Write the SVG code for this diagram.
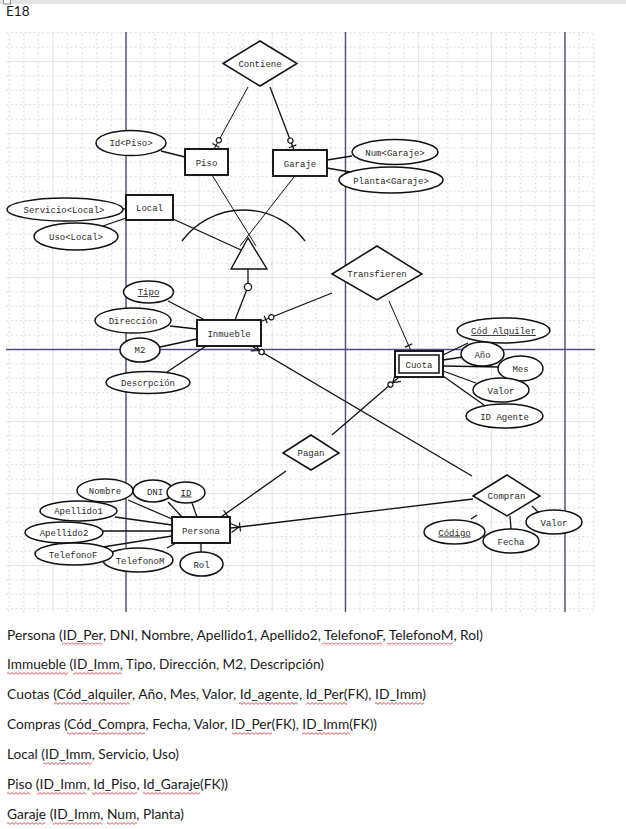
<svg xmlns="http://www.w3.org/2000/svg" xmlns:xlink="http://www.w3.org/1999/xlink" width="626" height="829" viewBox="0 0 626 829">
<style>
.lbl{font-family:"Liberation Mono","DejaVu Sans Mono",monospace;font-size:9px;fill:#2a2a2a;text-anchor:middle}
.ent{fill:#fff;stroke:#111;stroke-width:1.9}
.att{fill:#fff;stroke:#111;stroke-width:1.5}
.rel{fill:#fff;stroke:#111;stroke-width:1.5}
.cn{stroke:#111;stroke-width:1.3;fill:none}
.thin{stroke-width:1}
.mk{stroke:#111;stroke-width:1.2;fill:none}
.body{font-family:Lato,"Open Sans","Liberation Sans",sans-serif;font-size:14px;fill:#1a1a1a}
.blue{stroke:#4d4d82;stroke-width:1.4}
.sq{fill:url(#squig)}
</style>
<defs>
<pattern id="grid" patternUnits="userSpaceOnUse" x="125.5" y="349" width="73.1" height="72">
<g stroke="#d9d9d9" stroke-width="1" stroke-dasharray="2 2.5">
<line x1="15.1" y1="0" x2="15.1" y2="72"/><line x1="29.7" y1="0" x2="29.7" y2="72"/><line x1="44.4" y1="0" x2="44.4" y2="72"/><line x1="59" y1="0" x2="59" y2="72"/>
<line x1="0" y1="14.9" x2="73.1" y2="14.9"/><line x1="0" y1="29.3" x2="73.1" y2="29.3"/><line x1="0" y1="43.7" x2="73.1" y2="43.7"/><line x1="0" y1="58.1" x2="73.1" y2="58.1"/>
</g>
<g stroke="#e3e3e3" stroke-width="1"><line x1="0.5" y1="0" x2="0.5" y2="72"/><line x1="0" y1="0.5" x2="73.1" y2="0.5"/></g>
</pattern>
<pattern id="squig" patternUnits="userSpaceOnUse" x="0" y="0" width="4" height="3">
<path d="M0,0.6 L2,2.4 L4,0.6" stroke="#e0262b" stroke-width="0.8" fill="none"/>
</pattern>
<g id="m-one-opt" class="mk"><line x1="4" y1="-4" x2="4" y2="4"/><circle cx="10" cy="0" r="2.6" fill="#fff"/></g>
<g id="m-many-opt" class="mk"><path d="M0,-4.5 L7,0 M0,4.5 L7,0"/><circle cx="10" cy="0" r="2.6" fill="#fff"/></g>
<g id="m-many-one" class="mk"><path d="M0,-4.5 L8,0 M0,4.5 L8,0 M9,-4.5 L9,4.5"/></g>
<g id="m-bar" class="mk"><path d="M6,-4 L6,4"/></g>
</defs>

<rect x="0" y="0" width="626" height="829" fill="#fff"/>
<rect x="0" y="0" width="626" height="4" fill="#e4e4e4"/>
<rect x="3.5" y="-1" width="7" height="5" fill="#fff" stroke="#8a8a8a" stroke-width="1"/>
<text x="6" y="16" font-family="Lato,'Open Sans','Liberation Sans',sans-serif" font-size="13.5" fill="#1a1a1a">E18</text>

<g id="grid-area">
<rect x="6" y="32" width="589" height="580" fill="url(#grid)"/>
<line class="blue" x1="126" y1="32" x2="126" y2="612"/>
<line class="blue" x1="345.5" y1="32" x2="345.5" y2="612"/>
<line class="blue" x1="565" y1="32" x2="565" y2="612"/>
<line class="blue" x1="6" y1="349.5" x2="595" y2="349.5"/>
</g>

<g id="connectors">
<line class="cn thin" x1="248" y1="87" x2="214" y2="149"/>
<line class="cn" x1="270" y1="87" x2="294" y2="150"/>
<line class="cn" x1="161" y1="151" x2="185" y2="157"/>
<line class="cn" x1="352" y1="156" x2="327" y2="160"/>
<line class="cn" x1="327" y1="168" x2="350" y2="172"/>
<line class="cn" x1="100" y1="227" x2="126" y2="218"/>
<line class="cn" x1="120" y1="209" x2="126" y2="209"/>
<line class="cn" x1="173" y1="219" x2="241" y2="250"/>
<line class="cn thin" x1="212" y1="175" x2="256" y2="246"/>
<line class="cn thin" x1="294" y1="177" x2="240" y2="246"/>
<path class="cn" d="M182,241 A76.5,76.5 0 0 1 305,241"/>
<line class="cn" x1="248" y1="269" x2="248" y2="284"/>
<line class="cn" x1="246.5" y1="290.5" x2="235" y2="320"/>
<line class="cn" x1="168" y1="301" x2="205" y2="320"/>
<line class="cn" x1="170" y1="326" x2="197" y2="329"/>
<line class="cn" x1="160" y1="347" x2="197" y2="339"/>
<line class="cn" x1="167" y1="372" x2="206" y2="346"/>
<line class="cn" x1="332" y1="293" x2="262" y2="321"/>
<line class="cn thin" x1="389" y1="301" x2="411" y2="351"/>
<line class="cn" x1="472" y1="476" x2="253" y2="347"/>
<line class="cn" x1="332" y1="435" x2="398" y2="378"/>
<line class="cn" x1="286" y1="471" x2="221" y2="517"/>
<line class="cn" x1="473" y1="499" x2="231" y2="528"/>
<line class="cn" x1="443" y1="355" x2="468" y2="343"/>
<line class="cn" x1="443" y1="360" x2="463" y2="357"/>
<line class="cn" x1="443" y1="366" x2="500" y2="367"/>
<line class="cn" x1="443" y1="371" x2="476" y2="383"/>
<line class="cn" x1="443" y1="376" x2="484" y2="405"/>
<line class="cn" x1="128" y1="500" x2="172" y2="519"/>
<line class="cn" x1="168" y1="502" x2="182" y2="517"/>
<line class="cn" x1="192" y1="503" x2="197" y2="517"/>
<line class="cn" x1="115" y1="517" x2="172" y2="525"/>
<line class="cn" x1="103" y1="531" x2="172" y2="531"/>
<line class="cn" x1="103" y1="547" x2="172" y2="536"/>
<line class="cn" x1="167" y1="548" x2="176" y2="543"/>
<line class="cn" x1="201" y1="543" x2="201" y2="552"/>
<line class="cn" x1="471" y1="519" x2="477" y2="515"/>
<line class="cn" x1="510" y1="516" x2="511" y2="529"/>
<line class="cn" x1="532" y1="506" x2="538" y2="512"/>
<use xlink:href="#m-one-opt" href="#m-one-opt" transform="translate(214,149) rotate(-61.3)"/>
<use xlink:href="#m-one-opt" href="#m-one-opt" transform="translate(294,150) rotate(-110.9)"/>
<use xlink:href="#m-one-opt" href="#m-one-opt" transform="translate(262,321) rotate(-21.8)"/>
<use xlink:href="#m-bar" href="#m-bar" transform="translate(411,351) rotate(-113.7)"/>
<use xlink:href="#m-many-opt" href="#m-many-opt" transform="translate(398,378) rotate(139.2)"/>
<use xlink:href="#m-bar" href="#m-bar" transform="translate(221,517) rotate(-35.3)"/>
<use xlink:href="#m-many-opt" href="#m-many-opt" transform="translate(253,347) rotate(30.5)"/>
<use xlink:href="#m-many-one" href="#m-many-one" transform="translate(231,528) rotate(-6.8)"/>
</g>

<g id="isa">
<polygon points="248,238 231,269 267,269" fill="none" stroke="#111" stroke-width="1.4"/>
<circle cx="248" cy="287" r="3.6" fill="#fff" stroke="#111" stroke-width="1.2"/>
</g>

<g id="contiene"><polygon class="rel" points="223,63.5 260,41 297,63.5 260,86"/><text class="lbl" x="260" y="67">Contiene</text></g>
<g id="piso"><rect class="ent" x="185" y="149" width="43" height="26"/><text class="lbl" x="206.5" y="166">Piso</text></g>
<g id="garaje"><rect class="ent" x="273" y="150" width="54" height="26"/><text class="lbl" x="300" y="167">Garaje</text></g>
<g id="id-piso"><ellipse class="att" cx="131" cy="143" rx="35" ry="12.5"/><text class="lbl" x="131" y="146">Id&lt;Piso&gt;</text></g>
<g id="num-garaje"><ellipse class="att" cx="395" cy="152" rx="43" ry="12.5"/><text class="lbl" x="395" y="155.5">Num&lt;Garaje&gt;</text></g>
<g id="planta-garaje"><ellipse class="att" cx="391" cy="180" rx="52" ry="13"/><text class="lbl" x="391" y="183.5">Planta&lt;Garaje&gt;</text></g>
<g id="local"><rect class="ent" x="126" y="195" width="47" height="25"/><text class="lbl" x="149.5" y="211">Local</text></g>
<g id="servicio-local"><ellipse class="att" cx="65" cy="209.5" rx="58" ry="11.5"/><text class="lbl" x="64" y="212.5">Servicio&lt;Local&gt;</text></g>
<g id="uso-local"><ellipse class="att" cx="76" cy="236.5" rx="42" ry="13.5"/><text class="lbl" x="76" y="240">Uso&lt;Local&gt;</text></g>
<g id="inmueble"><rect class="ent" x="197" y="320" width="64" height="26"/><text class="lbl" x="229" y="337">Inmueble</text></g>
<g id="tipo"><ellipse class="att" cx="148.5" cy="292" rx="25" ry="11"/><text class="lbl" x="148.5" y="295" text-decoration="underline">Tipo</text></g>
<g id="direccion"><ellipse class="att" cx="133" cy="320.5" rx="38" ry="12.5"/><text class="lbl" x="133" y="324">Dirección</text></g>
<g id="m2"><ellipse class="att" cx="140" cy="350" rx="20" ry="12"/><text class="lbl" x="140" y="353">M2</text></g>
<g id="descripcion"><ellipse class="att" cx="148" cy="382.5" rx="42" ry="11"/><text class="lbl" x="148" y="385.5">Descrpción</text></g>
<g id="transfieren"><polygon class="rel" points="332,274 377,246 422,274 377,300"/><text class="lbl" x="377" y="277">Transfieren</text></g>
<g id="cuota"><rect class="ent" x="395" y="351" width="48" height="26"/><rect x="399" y="355" width="40" height="18" fill="none" stroke="#111" stroke-width="1.5"/><text class="lbl" x="419" y="368">Cuota</text></g>
<g id="cod-alquiler"><ellipse class="att" cx="503.5" cy="330.5" rx="46.5" ry="12.5"/><text class="lbl" x="503.5" y="334" text-decoration="underline">Cód Alquiler</text></g>
<g id="anio"><ellipse class="att" cx="482.5" cy="354" rx="21.5" ry="12"/><text class="lbl" x="482.5" y="357.5">Año</text></g>
<g id="mes"><ellipse class="att" cx="520.5" cy="368.5" rx="22.5" ry="12.5"/><text class="lbl" x="520.5" y="372">Mes</text></g>
<g id="valor-cuota"><ellipse class="att" cx="501" cy="390" rx="28" ry="12"/><text class="lbl" x="501" y="393.5">Valor</text></g>
<g id="id-agente"><ellipse class="att" cx="504.5" cy="416" rx="38.5" ry="12"/><text class="lbl" x="504.5" y="419.5">ID Agente</text></g>
<g id="pagan"><polygon class="rel" points="283,453 311,435 339,453 311,470"/><text class="lbl" x="311" y="456">Pagan</text></g>
<g id="compran"><polygon class="rel" points="473,496 507,475 540,496 507,516"/><text class="lbl" x="506.5" y="499">Compran</text></g>
<g id="codigo"><ellipse class="att" cx="454.5" cy="532" rx="30.5" ry="12"/><text class="lbl" x="454.5" y="535.5" text-decoration="underline">Código</text></g>
<g id="fecha"><ellipse class="att" cx="511" cy="541" rx="28" ry="12"/><text class="lbl" x="511" y="544.5">Fecha</text></g>
<g id="valor-compra"><ellipse class="att" cx="554" cy="522" rx="28" ry="12"/><text class="lbl" x="554" y="525.5">Valor</text></g>
<g id="persona"><rect class="ent" x="172" y="517" width="58" height="26"/><text class="lbl" x="201" y="534">Persona</text></g>
<g id="nombre"><ellipse class="att" cx="105" cy="490.5" rx="28" ry="11.5"/><text class="lbl" x="105" y="494">Nombre</text></g>
<g id="dni"><ellipse class="att" cx="153" cy="491" rx="20" ry="11"/><text class="lbl" x="155" y="494.5">DNI</text></g>
<g id="id-persona"><ellipse class="att" cx="186" cy="492.5" rx="19" ry="10.5"/><text class="lbl" x="186" y="495.5" text-decoration="underline">ID</text></g>
<g id="apellido1"><ellipse class="att" cx="78.5" cy="511" rx="38.5" ry="10"/><text class="lbl" x="78.5" y="514">Apellido1</text></g>
<g id="apellido2"><ellipse class="att" cx="64" cy="532.5" rx="39" ry="10.5"/><text class="lbl" x="64" y="535.5">Apellido2</text></g>
<g id="telefonom"><ellipse class="att" cx="138" cy="560" rx="35" ry="12"/><text class="lbl" x="140" y="563.5">TelefonoM</text></g>
<g id="telefonof"><ellipse class="att" cx="74" cy="554" rx="39" ry="11"/><text class="lbl" x="73" y="557.5">TelefonoF</text></g>
<g id="rol"><ellipse class="att" cx="201.5" cy="564" rx="21.5" ry="12"/><text class="lbl" x="201.5" y="567.5">Rol</text></g>

<g id="schema">
<text class="body" x="7" y="640" textLength="476" lengthAdjust="spacingAndGlyphs">Persona (ID_Per, DNI, Nombre, Apellido1, Apellido2, TelefonoF, TelefonoM, Rol)</text>
<text class="body" x="7" y="669" textLength="317" lengthAdjust="spacingAndGlyphs">Immueble (ID_Imm, Tipo, Dirección, M2, Descripción)</text>
<text class="body" x="7" y="699" textLength="419" lengthAdjust="spacingAndGlyphs">Cuotas (Cód_alquiler, Año, Mes, Valor, Id_agente, Id_Per(FK), ID_Imm)</text>
<text class="body" x="7" y="729" textLength="370" lengthAdjust="spacingAndGlyphs">Compras (Cód_Compra, Fecha, Valor, ID_Per(FK), ID_Imm(FK))</text>
<text class="body" x="7" y="759" textLength="172" lengthAdjust="spacingAndGlyphs">Local (ID_Imm, Servicio, Uso)</text>
<text class="body" x="7" y="789" textLength="221" lengthAdjust="spacingAndGlyphs">Piso (ID_Imm, Id_Piso, Id_Garaje(FK))</text>
<text class="body" x="7" y="819" textLength="177" lengthAdjust="spacingAndGlyphs">Garaje (ID_Imm, Num, Planta)</text>
<g id="spell">
<rect class="sq" x="62" y="642.5" width="40" height="3"/>
<rect class="sq" x="322" y="642.5" width="60" height="3"/>
<rect class="sq" x="387" y="642.5" width="66" height="3"/>
<rect class="sq" x="7" y="672" width="61" height="3"/>
<rect class="sq" x="73" y="672" width="49" height="3"/>
<rect class="sq" x="54" y="702" width="76" height="3"/>
<rect class="sq" x="239" y="702" width="59" height="3"/>
<rect class="sq" x="306" y="702" width="41" height="3"/>
<rect class="sq" x="375" y="702" width="49" height="3"/>
<rect class="sq" x="67" y="732" width="78" height="3"/>
<rect class="sq" x="232" y="732" width="40" height="3"/>
<rect class="sq" x="302" y="732" width="48" height="3"/>
<rect class="sq" x="43" y="762" width="49" height="3"/>
<rect class="sq" x="7" y="792" width="23" height="3"/>
<rect class="sq" x="37" y="792" width="49" height="3"/>
<rect class="sq" x="92" y="792" width="45" height="3"/>
<rect class="sq" x="143" y="792" width="57" height="3"/>
<rect class="sq" x="7" y="822" width="38" height="3"/>
<rect class="sq" x="53" y="822" width="49" height="3"/>
<rect class="sq" x="107" y="822" width="30" height="3"/>
</g>
</g>
</svg>
